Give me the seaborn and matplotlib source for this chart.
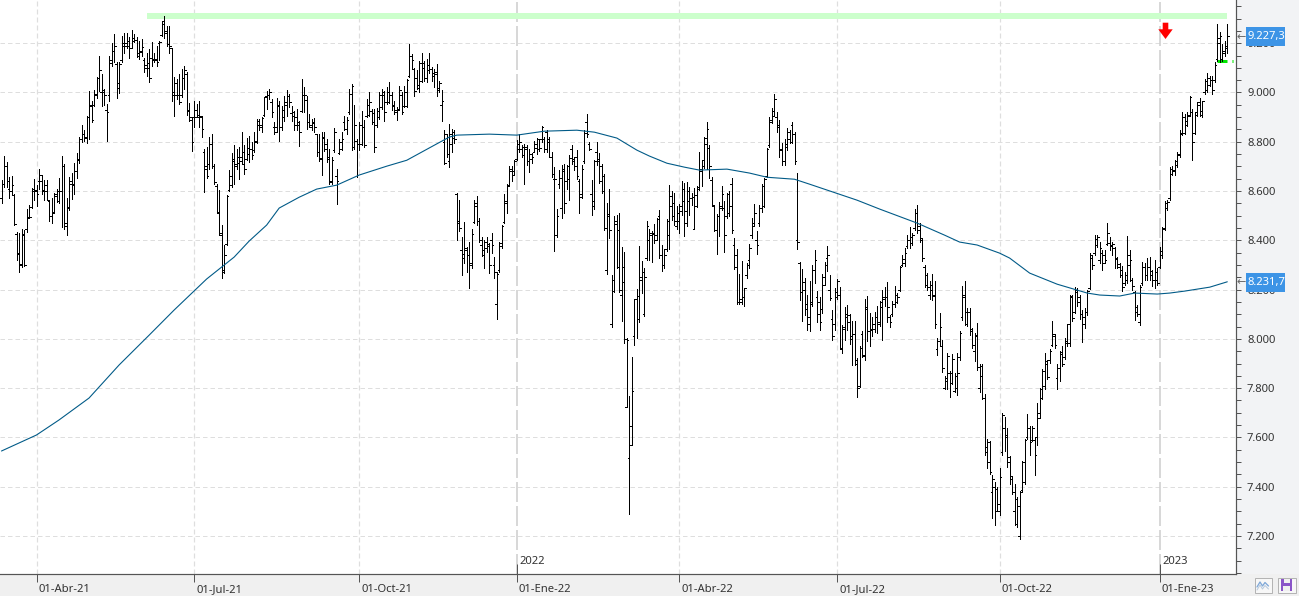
import matplotlib
matplotlib.use("Agg")
import matplotlib.pyplot as plt
from matplotlib.patches import Rectangle, Polygon
from matplotlib.transforms import Affine2D, ScaledTranslation
import numpy as np
import pandas as pd
import seaborn as sns

# Daily index bars, Mar-2021 to Jan-2023
highs = [
    8644,8741,8718,8657,8660,8590,8432,8428,8444,8441, 8529,8543,8613,8650,8623,8691,8664,8644,8646,8563,
    8570,8592,8610,8654,8741,8711,8570,8657,8673,8714, 8754,8819,8869,8846,8904,9005,8967,9011,9064,9149,
    9075,9014,8953,9149,9200,9239,9122,9122,9230,9243, 9243,9226,9253,9239,9226,9209,9216,9142,9162,9176,
    9203,9162,9189,9209,9290,9310,9270,9270,9182,9064, 9054,9075,9095,9108,9084,8958,8900,8967,8953,8967,
    8906,8771,8778,8819,8832,8711,8630,8606,8462,8381, 8586,8684,8755,8785,8771,8778,8839,8785,8816,8822,
    8798,8839,8893,8893,8902,8983,9007,9014,8974,8879, 8976,8967,8947,8987,9010,8994,8947,8926,8933,8886,
    9054,9021,8984,8913,8893,8897,8832,8832,8839,8839, 8812,8771,8738,8856,8691,8812,8839,8906,8900,9014,
    9034,8951,8812,8879,8926,8889,8974,9001,8933,8933, 8937,9003,9014,9007,9021,9041,9001,8967,8943,9028,
    9001,9028,9054,9196,9158,9098,9091,9129,9162,9129, 9135,9162,9102,9095,9115,9048,9010,8846,8832,
    8873,8853,8848,8594,8563,8415,8475,8374,8392,8448, 8563,8580,8489,8415,8401,8415,8388,8431,8334,8271,
    8395,8462,8587,8630,8702,8702,8727,8808,8832,8785, 8792,8788,8772,8754,8805,8816,8812,8866,8819,8848,
    8819,8758,8698,8529,8684,8704,8711,8704,8745,8785, 8738,8765,8650,8704,8846,8913,8799,8644,8725,8799,
    8753,8710,8670,8551,8608,8258,8498,8504,8511,8373, 8353,8002,7770,7925,8163,8201,8379,8318,8289,8480,
    8446,8437,8467,8491,8525,8383,8363,8487,8626,8599, 8592,8538,8549,8639,8632,8635,8616,8592,8612,8619,
    8757,8727,8821,8879,8787,8656,8545,8508,8554,8619, 8558,8592,8599,8652,8410,8363,8262,8316,8208,8309,
    8386,8491,8547,8437,8545,8630,8652,8774,8902,8938, 8993,8922,8888,8794,8810,8854,8848,8881,8841,8673,
    8313,8282,8246,8177,
    8233,8300,8361,8193,8172,8264,8311,8377,8260,8118, 8206,8244,8210,8058,8129,8139,8101,8074,8074,7923,
    7973,8034,8163,8175,8105,8089,8108,8132,8152,8199, 8210,8230,8098,8152,8215,8186,8296,8341,8368,8422,
    8453,8428,8529,8543,8469,8408,8300,8267,8233,8264, 8236,8004,8105,7997,7849,7943,7869,7937,7863,7941,
    8031,8215,8236,8125,8125,8044,8024,8065,7900,7900, 7775,7593,7586,7449,7418,7398,
    7475,7701,7681,7640,7526,7445,7411,7357,7384,7505, 7593,7694,7647,7647,7600,7741,7802,7876,7943,7916,
    7957,8071,8021,7900,7950,7970,8004,8062,8179,8179, 8210,8206,8179,8118,8125,8199,8347,8341,8422,8422,
    8395,8361,8361,8469,8415,8395,8374,8334,8307,8296, 8273,8418,8361,8246,8193,8139,8219,8314,8307,8327,
    8334,8280,8321,8287,8374,8455,
    8560,8562,8697,8700,8725,8758,8846,8920,8913,8920, 8987,8933,8920,8960,8978,8967,9054,9081,9068,9068,
    9122,9279,9247,9196,9207,9277,
]
lows = [
    8552,8617,8617,8570,8583,8462,8320,8273,8291,8296, 8435,8489,8533,8563,8540,8610,8587,8563,8563,8479,
    8469,8509,8556,8552,8455,8448,8421,8522,8567,8590, 8653,8714,8801,8805,8795,8812,8879,8947,8978,9007,
    8944,8951,8803,8967,9108,9122,8976,8997,9125,9162, 9182,9142,9180,9203,9146,9135,9149,9085,9068,9041,
    9108,9122,9108,9131,9230,9223,9189,9162,8967,8906, 8974,8953,8980,9014,8910,8886,8762,8859,8900,8859,
    8821,8597,8654,8691,8695,8627,8509,8421,8246,8266, 8381,8600,8617,8630,8691,8650,8711,8668,8725,8718,
    8731,8758,8795,8846,8839,8906,8933,8974,8900,8832, 8839,8805,8849,8886,8906,8943,8886,8846,8846,8782,
    8920,8920,8852,8859,8848,8839,8741,8722,8667,8762, 8718,8627,8630,8758,8549,8749,8765,8848,8832,8913,
    8768,8772,8657,8768,8785,8778,8902,8906,8873,8758, 8859,8893,8933,8884,8953,8956,8929,8913,8889,8927,
    8913,8940,8940,9061,9095,8987,9014,9001,9041,9048, 9041,9079,9048,9024,8987,9000,8886,8711,8738,
    8698,8758,8795,8401,8438,8260,8307,8273,8206,8287, 8471,8462,8395,8337,8287,8354,8267,8347,8246,8082,
    8273,8368,8469,8509,8620,8640,8664,8725,8758,8738, 8628,8704,8677,8715,8758,8751,8762,8799,8758,8758,
    8738,8657,8358,8415,8614,8489,8509,8610,8563,8711, 8684,8650,8509,8570,8715,8819,8765,8502,8529,8704,
    8632,8592,8441,8262,8410,8049,8190,8289,8190,8073, 7982,7723,7289,7568,7975,8002,8069,8188,8093,8320,
    8320,8312,8390,8401,8329,8275,8289,8356,8363,8484, 8464,8446,8430,8504,8417,8457,8504,8545,8444,8535,
    8605,8619,8693,8689,8652,8538,8437,8343,8417,8525, 8352,8491,8500,8430,8282,8143,8143,8141,8134,8248,
    8286,8410,8460,8343,8460,8514,8535,8656,8780,8875, 8904,8841,8740,8706,8706,8767,8794,8794,8710,8363,
    8158,8071,8096,8037,
    8031,8132,8226,8067,8035,8105,8219,8277,8156,7995, 8035,8162,7960,7941,7997,8035,7981,7893,7893,7764,
    7806,7927,7914,7990,7970,8013,8027,8024,8054,7995, 8132,8067,8048,8094,8129,8145,8193,8296,8294,8368,
    8368,8381,8442,8428,8395,8318,8210,8199,8162,8159, 8044,7934,7970,7865,7795,7795,7764,7815,7784,7772,
    7916,8078,8058,8054,8017,7964,7910,7873,7784,7755, 7528,7475,7452,7274,7243,7303,
    7287,7528,7543,7481,7411,7371,7243,7236,7189,7378, 7411,7593,7528,7586,7448,7569,7677,7755,7798,7836,
    7903,7970,7964,7795,7829,7892,7919,7973,7973,8071, 8105,8132,8081,7986,8044,8098,8202,8284,8341,8374,
    8307,8280,8307,8381,8361,8341,8287,8287,8253,8193, 8219,8226,8233,8199,8078,8091,8058,8219,8240,8240,
    8240,8213,8206,8219,8287,8327,
    8442,8522,8563,8664,8664,8698,8738,8826,8832,8866, 8906,8725,8830,8906,8906,8902,8994,9001,9027,8994,
    9044,9129,9122,9129,9149,9162,
]
opens = [
    8570,8630,8700,8610,8600,8585,8425,8350,8300,8425, 8445,8495,8535,8610,8600,8640,8640,8605,8600,8560,
    8500,8515,8590,8600,8600,8700,8470,8530,8640,8630, 8680,8730,8810,8830,8820,8900,8950,8950,8990,9060,
    9000,9000,8930,8990,9130,9170,9115,9020,9130,9200, 9200,9190,9180,9210,9215,9160,9165,9130,9110,9100,
    9140,9130,9130,9200,9235,9290,9250,9195,9180,8990, 9040,8990,8990,9060,9075,8930,8890,8900,8930,8900,
    8900,8760,8690,8710,8790,8700,8620,8510,8420,8270, 8385,8605,8625,8720,8710,8740,8720,8710,8730,8750,
    8770,8765,8800,8870,8870,8910,8985,8990,8960,8860, 8860,8945,8860,8900,8950,8985,8915,8920,8900,8880,
    8925,8990,8970,8880,8860,8880,8830,8760,8735,8815, 8790,8730,8640,8765,8660,8755,8770,8880,8850,8920,
    8995,8780,8805,8790,8790,8860,8905,8910,8925,8915, 8870,8900,8940,9000,8960,8960,8990,8945,8930,8935,
    8990,8945,8945,9065,9150,9095,9060,9020,9045,9120, 9060,9090,9095,9080,9075,9010,8950,8800,8830,
    8720,8790,8840,8590,8480,8360,8330,8360,8340,8310, 8475,8540,8480,8380,8340,8370,8375,8400,8300,8140,
    8280,8375,8475,8550,8625,8680,8680,8730,8770,8770, 8780,8780,8720,8730,8760,8775,8810,8810,8810,8840,
    8800,8740,8650,8420,8630,8530,8680,8640,8650,8770, 8730,8740,8640,8575,8720,8880,8790,8590,8560,8760,
    8720,8700,8660,8280,8505,8060,8240,8465,8290,8180, 8290,7725,7515,7570,8010,8160,8080,8250,8100,8330,
    8400,8420,8430,8420,8500,8340,8300,8365,8420,8540, 8550,8460,8480,8520,8560,8520,8560,8570,8445,8540,
    8615,8680,8725,8815,8775,8645,8540,8440,8500,8540, 8530,8500,8590,8630,8380,8290,8150,8160,8170,8260,
    8320,8420,8470,8400,8470,8530,8540,8660,8785,8880, 8905,8900,8870,8770,8720,8780,8810,8870,8830,8400,
    8310,8190,8200,8140,
    8090,8150,8280,8170,8150,8120,8220,8330,8200,8080, 8060,8170,8180,7960,8050,8100,8070,8000,8020,7915,
    7810,8020,7930,8130,8030,8040,8040,8090,8060,8150, 8160,8170,8090,8100,8140,8150,8200,8300,8310,8375,
    8400,8390,8450,8510,8460,8400,8290,8260,8180,8200, 8180,7960,7990,7970,7800,7840,7860,7860,7790,7850,
    7925,8090,8170,8060,8110,8030,7950,8015,7800,7850, 7760,7560,7580,7380,7400,7390,
    7300,7540,7640,7610,7520,7430,7300,7250,7200,7385, 7420,7600,7640,7590,7590,7600,7680,7760,7810,7900,
    7915,7975,8010,7840,7880,7940,7925,7990,7985,8175, 8110,8200,8170,8100,8060,8110,8205,8330,8350,8380,
    8320,8350,8340,8385,8390,8375,8370,8325,8290,8280, 8225,8240,8300,8240,8190,8130,8070,8225,8290,8260,
    8290,8275,8240,8240,8290,8340,
    8450,8530,8570,8670,8680,8705,8745,8830,8835,8870, 8910,8920,8835,8910,8960,8910,9000,9010,9030,9050,
    9050,9135,9220,9135,9160,9180,
]
closes = [
    8630,8700,8640,8600,8625,8465,8345,8305,8420,8300, 8490,8495,8600,8605,8590,8665,8600,8625,8565,8500,
    8510,8580,8560,8600,8700,8460,8535,8630,8625,8680, 8725,8810,8830,8815,8900,8945,8890,8995,9060,9090,
    9010,8990,8920,9120,9170,9190,9040,9115,9190,9190, 9210,9180,9220,9215,9150,9170,9185,9100,9120,9060,
    9135,9135,9125,9205,9280,9240,9195,9190,9000,8990, 8990,8960,9060,9090,8925,8900,8800,8900,8910,8905,
    8850,8700,8660,8790,8700,8635,8515,8430,8280,8340, 8580,8660,8730,8700,8715,8740,8760,8690,8775,8770,
    8745,8805,8885,8860,8895,8980,8990,9000,8920,8840, 8950,8860,8930,8960,8985,8960,8905,8870,8870,8840,
    8990,8990,8880,8870,8875,8860,8760,8730,8820,8770, 8740,8635,8725,8840,8640,8800,8810,8850,8890,8995,
    9025,8870,8790,8870,8860,8785,8950,8960,8880,8780, 8925,8990,8990,8920,9000,8990,8950,8920,8930,9010,
    8920,9000,9050,9150,9130,9005,9030,9120,9100,9060, 9110,9095,9065,9085,9020,9040,8965,8715,8750,
    8830,8815,8810,8470,8450,8345,8370,8340,8300,8425, 8550,8480,8400,8360,8395,8385,8300,8380,8270,8265,
    8390,8460,8560,8620,8690,8665,8720,8790,8800,8745, 8770,8720,8750,8740,8790,8770,8775,8860,8770,8810,
    8740,8670,8650,8500,8655,8690,8550,8700,8735,8720, 8700,8660,8590,8690,8835,8830,8770,8540,8720,8730,
    8640,8600,8450,8500,8440,8195,8480,8440,8200,8230, 8000,7995,7647,7788,8160,8175,8240,8270,8250,8460,
    8430,8425,8400,8485,8340,8300,8340,8480,8580,8500, 8480,8510,8540,8610,8470,8600,8570,8575,8585,8610,
    8690,8700,8790,8850,8700,8545,8440,8500,8530,8590, 8420,8510,8540,8440,8340,8150,8150,8170,8205,8300,
    8370,8460,8510,8380,8530,8620,8650,8770,8890,8925, 8975,8860,8765,8720,8790,8840,8800,8830,8720,8395,
    8190,8230,8120,8060,
    8140,8280,8320,8100,8070,8250,8300,8340,8165,8010, 8190,8235,7965,8040,8090,8095,8010,8020,7900,7800,
    7965,7935,8120,8030,8035,8060,8090,8070,8130,8170, 8170,8130,8070,8140,8180,8170,8290,8325,8350,8400,
    8415,8420,8510,8440,8410,8330,8220,8210,8220,8175, 8060,7990,8050,7880,7830,7930,7820,7920,7800,7860,
    8025,8180,8110,8110,8040,7975,8010,7885,7890,7760, 7540,7500,7460,7430,7300,7330,
    7440,7690,7600,7500,7445,7380,7350,7320,7380,7500, 7590,7640,7580,7640,7530,7700,7795,7870,7910,7845,
    7950,8020,7975,7880,7945,7900,7985,8060,8170,8085, 8190,8150,8100,8090,8110,8195,8340,8300,8405,8415,
    8370,8310,8320,8430,8380,8385,8330,8305,8260,8210, 8260,8340,8320,8215,8110,8100,8210,8290,8260,8290,
    8260,8240,8270,8225,8355,8445,
    8550,8555,8690,8685,8720,8750,8835,8900,8885,8905, 8980,8800,8920,8950,8925,8965,9045,9060,9050,9010,
    9110,9200,9230,9170,9190,9227.3,
]

# Long moving average, sampled at these bar numbers
ma_bars = [0,14,23,35,47,59,69,82,93,99,106,111,119,126,134,143,154,162,173,179,182,195,206,217,230,237,
           246,254,259,266,273,279,290,299,306,317,323,342,351,366,377,383,390,399,403,411,422,434,439,447,
           453,462,467,473,483,490]
ma_values = [7545,7610,7671,7760,7894,8015,8117,8243,8332,8397,8462,8531,8575,8608,8624,8665,8701,8725,8786,
             8819,8827,8831,8827,8843,8847,8839,8815,8766,8742,8713,8697,8685,8689,8673,8656,8648,8628,8563,
             8527,8470,8421,8393,8381,8348,8328,8267,8222,8186,8178,8174,8186,8182,8186,8194,8210,8231.7]

date_bars = [14, 77, 143, 206, 271, 334, 399, 463]
date_labels = ["01-Abr-21", "01-Jul-21", "01-Oct-21", "01-Ene-22", "01-Abr-22", "01-Jul-22", "01-Oct-22", "01-Ene-23"]
year_bars = [206, 463]
year_labels = ["2022", "2023"]

price_ticks = [7200, 7400, 7600, 7800, 8000, 8200, 8400, 8600, 8800, 9000, 9200]
price_labels = ["7.200", "7.400", "7.600", "7.800", "8.000", "8.200", "8.400", "8.600", "8.800", "9.000", "9.200"]

resistance_level = 9310
resistance_start_bar = 58
support_level = 9127
support_start_bar = 486
last_price_text = "9.227,3"
last_ma_text = "8.231,7"

W, H = 1299, 596
sns.set_theme(style="white", rc={"lines.scale_dashes": False, "axes.linewidth": 0.75})
plt.rcParams["font.family"] = ["Noto Sans", "DejaVu Sans"]

fig = plt.figure(figsize=(W / 100, H / 100), dpi=100, facecolor="#F2F3F5")
ax = fig.add_axes([0, 1 - 574 / H, 1236 / W, 574 / H], facecolor="white")
px = 0.72  # one pixel in points
ink = "#333333"
rule = "#555555"

# Fixed-size furniture placed in image pixels
to_px = Affine2D().scale(1, -1).translate(0, H)
fig.add_artist(Rectangle((0, 574), W, 22, transform=to_px, fc="#F0F0F0", ec="none", zorder=0))

bar_x = np.arange(len(highs))
spacing = 2.5016
ax.set_xlim(-0.6, -0.6 + 1236 / spacing)
ax.set_ylim(7045.8, 9375.4)

# Grid
ax.hlines(price_ticks, *ax.get_xlim(), color="#DEDEDE", lw=px, linestyle=(0, (4.5 * px, 3 * px)), zorder=1)
plain_dates = [b for b in date_bars if b not in year_bars]
ax.vlines(plain_dates, *ax.get_ylim(), color="#DEDEDE", lw=1.2 * px, linestyle=(0, (5 * px, 3 * px)), zorder=1)
ax.vlines(year_bars, *ax.get_ylim(), color="#CFCFCF", lw=1.6 * px, linestyle=(0, (20 * px, 4 * px)), zorder=1)

# Resistance band and the short support mark
ax.hlines(resistance_level, resistance_start_bar, len(highs) - 1, color="#CCFFCC", lw=6 * px, zorder=2)
ax.hlines(support_level, support_start_bar, len(highs) - 1, color="#00E600", lw=3 * px, zorder=2)
ax.hlines(support_level, len(highs) + 0.7, len(highs) + 1.1, color="#00E600", lw=3 * px, zorder=2)

# OHLC bars
ax.vlines(bar_x, lows, highs, color="black", lw=px, antialiased=False, zorder=3)
ax.hlines(opens, bar_x - 0.6, bar_x, color="black", lw=px, antialiased=False, zorder=3)
ax.hlines(closes, bar_x, bar_x + 0.6, color="black", lw=px, antialiased=False, zorder=3)

# Moving average
ma_frame = pd.DataFrame({"bar": ma_bars, "value": ma_values})
sns.lineplot(data=ma_frame, x="bar", y="value", ax=ax, color="#005A87", lw=1.1 * px,
             errorbar=None, sort=False, legend=False, zorder=4)
ax.set_xlabel("")
ax.set_ylabel("")

# Axes dressing
sns.despine(ax=ax, left=True, top=True, right=False, bottom=False)
for side in ("right", "bottom"):
    ax.spines[side].set_color(rule)
    ax.spines[side].set_linewidth(1.2 * px)

ax.yaxis.tick_right()
ax.set_yticks(price_ticks, price_labels)
ax.set_yticks(np.arange(7050, 9351, 50), minor=True)
ax.tick_params(axis="y", which="both", length=5 * px, width=px, color=rule, right=True, left=False,
               direction="out", pad=6 * px, labelsize=8.1, labelcolor=ink)
ax.set_xticks(date_bars, date_labels)
ax.tick_params(axis="x", which="major", length=8 * px, width=px, color=rule, bottom=True,
               direction="out", pad=1.5, labelsize=8.1, labelcolor=ink)
nudge = ScaledTranslation(2 / 100, 0, fig.dpi_scale_trans)
for label in ax.get_xticklabels():
    label.set_horizontalalignment("left")
    label.set_transform(label.get_transform() + nudge)

# Year markers rise above the date axis
for bar, text in zip(year_bars, year_labels):
    ax.vlines(bar, 7045.8, 7045.8 + 10 * 4.0586, color=rule, lw=px, zorder=5)
    ax.annotate(text, (bar, 7045.8), xytext=(2, 9), textcoords="offset pixels" if False else "offset points",
                fontsize=8.1, color=ink, ha="left", va="center", annotation_clip=False, zorder=6)

# Red sell arrow
fig.add_artist(Polygon([(1162.7, 22.7), (1168.3, 22.7), (1168.3, 29.3), (1172.7, 29.3), (1165.5, 39),
                        (1158.3, 29.3), (1162.7, 29.3)], closed=True, transform=to_px, fc="#FF0000", ec="none", zorder=8))

# Last-value flags on the price axis
for centre, text in ((36.7, last_price_text), (282.5, last_ma_text)):
    fig.add_artist(Rectangle((1246, centre - 9.5), 38.5, 19, transform=to_px, fc="#3D94E6", ec="none", zorder=8))
    fig.text(1248 / W, 1 - centre / H, text, color="white", fontsize=8.1, ha="left", va="center", zorder=9)
    fig.text(1241.2 / W, 1 - centre / H, "\u2190", color="#666666", fontsize=8, family="DejaVu Sans",
             ha="center", va="center", zorder=9)

# Toolbar buttons, bottom right
fig.add_artist(Rectangle((1254.5, 577.5), 17, 15, transform=to_px, fc="#F7F7F7", ec="#B4B4B4", lw=px, zorder=8))
fig.add_artist(plt.Line2D([1257, 1260, 1262.5, 1265, 1268.5], [587, 582, 586, 582.5, 586], transform=to_px,
                          color="#7FA8D8", lw=1.3 * px, zorder=9))
fig.add_artist(plt.Line2D([1257, 1260, 1262.5, 1265, 1268.5], [590, 585, 589, 585.5, 589], transform=to_px,
                          color="#B7C9DE", lw=1.0 * px, zorder=9))
fig.add_artist(Rectangle((1277.5, 577.5), 18.5, 15, transform=to_px, fc="#F7F7F7", ec="#B4B4B4", lw=px, zorder=8))
fig.add_artist(Rectangle((1281, 578.5), 11, 12.5, transform=to_px, fc="#8A55C8", ec="none", zorder=9))
fig.add_artist(Rectangle((1283.5, 579), 6, 3.5, transform=to_px, fc="#F0F0F0", ec="none", zorder=10))
fig.add_artist(Rectangle((1283, 585.5), 7, 5, transform=to_px, fc="#F0F0F0", ec="none", zorder=10))

fig.savefig("out.png", dpi=100, facecolor=fig.get_facecolor())
